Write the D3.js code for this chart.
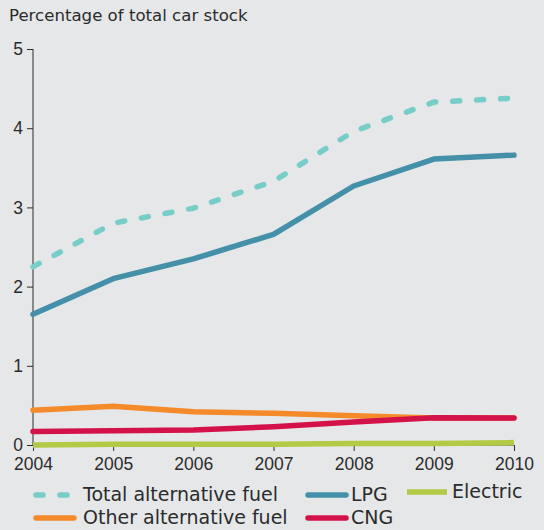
<!DOCTYPE html>
<html>
<head>
<meta charset="utf-8">
<script src="https://cdn.jsdelivr.net/npm/d3@7"></script>
<style>
  body { margin: 0; background: #e6e7e9; }
  svg { display: block; font-family: "DejaVu Sans", Verdana, sans-serif; }
  .axis text { font-size: 17.5px; fill: #2b2b2b; }
  .axis path, .axis line { stroke: #2b2b2b; }
</style>
</head>
<body>
<svg id="chart"></svg>
<script>
const years = [2004, 2005, 2006, 2007, 2008, 2009, 2010];
const yTicks = [0, 1, 2, 3, 4, 5];

const totalAlt = [2.25, 2.80, 2.99, 3.33, 3.96, 4.33, 4.38];
const lpg      = [1.65, 2.10, 2.35, 2.66, 3.27, 3.61, 3.66];
const otherAlt = [0.44, 0.49, 0.42, 0.40, 0.37, 0.34, 0.34];
const cng      = [0.17, 0.18, 0.19, 0.23, 0.29, 0.345, 0.34];
const electric = [0.0, 0.01, 0.01, 0.01, 0.02, 0.02, 0.03];

const seriesNames = ["Total alternative fuel", "LPG", "Electric", "Other alternative fuel", "CNG"];

const W = 544, H = 530;
const svg = d3.select("#chart").attr("width", W).attr("height", H);

const x = d3.scaleLinear().domain([2004, 2010]).range([33, 514]);
const y = d3.scaleLinear().domain([0, 5]).range([445, 49]);

// title
svg.append("text")
  .attr("x", 9).attr("y", 21)
  .attr("font-size", 16.6).attr("fill", "#2b2b2b")
  .text("Percentage of total car stock");

// axes
svg.append("g").attr("class", "axis")
  .attr("transform", `translate(${x(2004)},0)`)
  .call(d3.axisLeft(y).tickValues(yTicks).tickSize(6).tickPadding(4).tickFormat(d3.format("d")))
  .call(g => g.select(".domain").attr("d", `M0,${y(5)}V${y(0)}`));

svg.append("g").attr("class", "axis")
  .attr("transform", `translate(0,${y(0)})`)
  .call(d3.axisBottom(x).tickValues(years).tickSize(6).tickPadding(7).tickFormat(d3.format("d")))
  .call(g => g.select(".domain").attr("d", `M${x(2004)},0H${x(2010)}`));

const line = d3.line().x((d, i) => x(years[i])).y(d => y(d));

const series = [
  { name: "Electric", values: electric, color: "#b2cb46", dash: null, cap: "butt" },
  { name: "Other alternative fuel", values: otherAlt, color: "#f48a2a", dash: null, cap: "round" },
  { name: "CNG", values: cng, color: "#d3124a", dash: null, cap: "round" },
  { name: "LPG", values: lpg, color: "#4390a8", dash: null, cap: "round" },
  { name: "Total alternative fuel", values: totalAlt, color: "#77cdc8", dash: "7,17", cap: "round" }
];

svg.append("g").selectAll("path")
  .data(series)
  .join("path")
  .attr("d", d => line(d.values))
  .attr("fill", "none")
  .attr("stroke", d => d.color)
  .attr("stroke-width", 5.5)
  .attr("stroke-linecap", d => d.cap)
  .attr("stroke-linejoin", "round")
  .attr("stroke-dasharray", d => d.dash);

// legend
const legendPos = {
  "Total alternative fuel": { x1: 36, x2: 67, y: 495, tx: 83, ty: 501 },
  "Other alternative fuel": { x1: 36, x2: 74, y: 518, tx: 83, ty: 524 },
  "LPG": { x1: 308, x2: 346, y: 495, tx: 351, ty: 501 },
  "CNG": { x1: 308, x2: 346, y: 518, tx: 351, ty: 524 },
  "Electric": { x1: 407, x2: 447, y: 492, tx: 452, ty: 498 }
};

const leg = svg.append("g").selectAll("g")
  .data(series)
  .join("g");

leg.append("line")
  .attr("x1", d => legendPos[d.name].x1)
  .attr("x2", d => legendPos[d.name].x2)
  .attr("y1", d => legendPos[d.name].y)
  .attr("y2", d => legendPos[d.name].y)
  .attr("stroke", d => d.color)
  .attr("stroke-width", 5.5)
  .attr("stroke-linecap", d => d.cap)
  .attr("stroke-dasharray", d => d.dash);

leg.append("text")
  .attr("x", d => legendPos[d.name].tx)
  .attr("y", d => legendPos[d.name].ty)
  .attr("font-size", 19)
  .attr("fill", "#2b2b2b")
  .text(d => d.name);
</script>
</body>
</html>
